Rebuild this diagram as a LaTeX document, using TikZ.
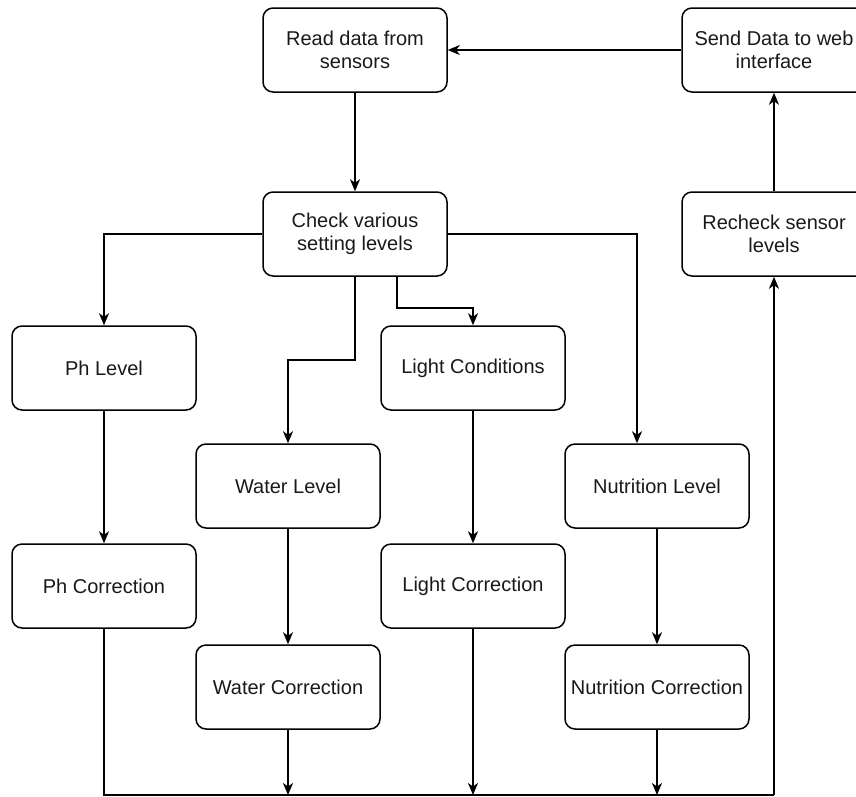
\documentclass[tikz,border=0pt]{standalone}
\usepackage{fontspec}
\setmainfont{Liberation Sans}
\usetikzlibrary{arrows.meta}
\begin{document}
\begin{tikzpicture}[x=1pt,y=-1pt,
  box/.style={draw, line width=1.5pt, rounded corners=10pt, minimum width=184pt, minimum height=84pt, inner sep=0pt, align=center, font=\fontsize{20pt}{23.5pt}\selectfont, text=black!90},
  conn/.style={draw, line width=1.5pt, -{Stealth[length=12pt,width=10pt,inset=3.5pt]}},
  line/.style={draw, line width=1.5pt}]
\useasboundingbox (0,0) rectangle (856,796);
\clip (0,0) rectangle (856,796);
\node[box] (read) at (355,50) {Read data from\\sensors};
\node[box] (send) at (774,50) {Send Data to web\\interface};
\node[box] (check) at (355,234) {Check various\\setting levels};
\node[box] (recheck) at (774,234) {Recheck sensor\\levels};
\node[box] (ph) at (104,368) {Ph Level};
\node[box] (light) at (473,368) {Light Conditions};
\node[box] (water) at (288,486) {Water Level};
\node[box] (nutr) at (657,486) {Nutrition Level};
\node[box] (phc) at (104,586) {Ph Correction};
\node[box] (lightc) at (473,586) {Light Correction};
\node[box] (waterc) at (288,687) {Water Correction};
\node[box] (nutrc) at (657,687) {Nutrition Correction};
\coordinate (bl) at (104,795);
\coordinate (br) at (774,795);
\coordinate (bw) at (288,795);
\coordinate (blt) at (473,795);
\coordinate (bn) at (657,795);

\draw[conn] (send.west) -- (read.east);
\draw[conn] (read.south) -- (check.north);
\draw[conn] (check.west) -| (ph.north);
\draw[conn] (check.south) -- (355,360) -| (water.north);
\draw[conn] (check.south -| 397,0) -- (397,308) -| (light.north);
\draw[conn] (check.east) -| (nutr.north -| 637,0);
\draw[conn] (ph.south) -- (phc.north);
\draw[conn] (water.south) -- (waterc.north);
\draw[conn] (light.south) -- (lightc.north);
\draw[conn] (nutr.south) -- (nutrc.north);
\draw[line] (phc.south) -- (bl) -- (br);
\draw[conn] (br) -- (recheck.south);
\draw[conn] (waterc.south) -- (bw);
\draw[conn] (lightc.south) -- (blt);
\draw[conn] (nutrc.south) -- (bn);
\draw[conn] (recheck.north) -- (send.south);
\end{tikzpicture}
\end{document}
